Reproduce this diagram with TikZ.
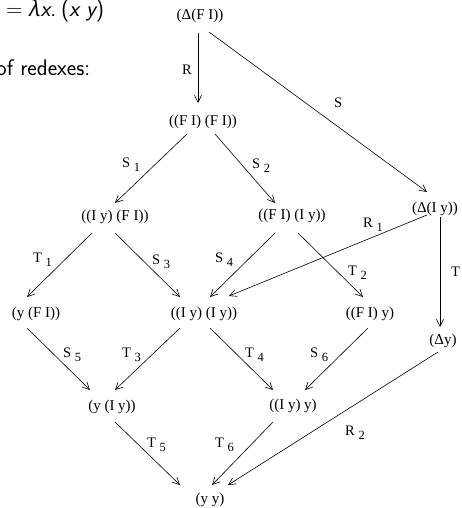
\documentclass[tikz,border=0pt]{standalone}
\usepackage{fontspec}
\setmainfont{Liberation Serif}
\newfontfamily\grk{Open Sans}
\usetikzlibrary{arrows.meta}
\newcommand\lab[2]{#1\ \raisebox{-4pt}{\fontsize{12.5}{13}\selectfont #2}}
\begin{document}
\begin{tikzpicture}[x=1pt,y=-1pt,
  term/.style={inner sep=0pt, font=\fontsize{15}{17}\selectfont},
  lbl/.style={inner sep=0pt, anchor=base west, font=\fontsize{14.5}{16}\selectfont},
  head/.style={inner sep=0pt, anchor=base west, font=\sffamily\fontsize{22.5}{27}\selectfont},
  arr/.style={line width=0.6pt, -{Straight Barb[length=7pt,width=7pt]}},
]
\useasboundingbox (0,0) rectangle (462,508);
% heading fragments
\node[head] (h1) at (6,17) {= {\grk\itshape λ}{\itshape x}.\hspace{5pt}({\itshape x y})};
\node[head] (h2) at (-4,76) {of redexes:};
% terms
\node[term] (A) at (200,16) {(Δ(F I))};
\node[term] (B) at (203,122) {((F I) (F I))};
\node[term] (C) at (115,217) {((I y) (F I))};
\node[term] (D) at (292,216) {((F I) (I y))};
\node[term] (E) at (435,209) {(Δ(I y))};
\node[term] (F) at (36,314) {(y (F I))};
\node[term] (G) at (204,314) {((I y) (I y))};
\node[term] (H) at (370,314) {((F I) y)};
\node[term] (K) at (443,341) {(Δy)};
\node[term] (L) at (112,407) {(y (I y))};
\node[term] (M) at (293,406) {((I y) y)};
\node[term] (N) at (210,500) {(y y)};
% arrows
\draw[arr] ([shift={(-2,17)}]A.center) -- ([shift={(-5,-19)}]B.center);
\draw[arr] ([shift={(9,16)}]A.center) -- ([shift={(-8,-17)}]E.center);
\draw[arr] ([shift={(-16,12)}]B.center) -- ([shift={(0,-14)}]C.center);
\draw[arr] ([shift={(12,12)}]B.center) -- ([shift={(-17,-13)}]D.center);
\draw[arr] ([shift={(-23,16)}]C.center) -- ([shift={(-9,-17)}]F.center);
\draw[arr] ([shift={(0,16)}]C.center) -- ([shift={(-24,-17)}]G.center);
\draw[arr] ([shift={(-17,17)}]D.center) -- ([shift={(6,-17)}]G.center);
\draw[arr] ([shift={(6,17)}]D.center) -- ([shift={(-7,-17)}]H.center);
\draw[arr] ([shift={(-8,6)}]E.center) -- ([shift={(25,-18)}]G.center);
\draw[arr] ([shift={(5,8)}]E.center) -- ([shift={(-3,-14)}]K.center);
\draw[arr] ([shift={(-9,14)}]F.center) -- ([shift={(-22,-17)}]L.center);
\draw[arr] ([shift={(-24,14)}]G.center) -- ([shift={(3,-17)}]L.center);
\draw[arr] ([shift={(6,14)}]G.center) -- ([shift={(-20,-16)}]M.center);
\draw[arr] ([shift={(-2,14)}]H.center) -- ([shift={(12,-16)}]M.center);
\draw[arr] ([shift={(3,15)}]L.center) -- ([shift={(-30,-15)}]N.center);
\draw[arr] ([shift={(-20,16)}]M.center) -- ([shift={(2,-15)}]N.center);
\draw[arr] ([shift={(-5,11)}]K.center) -- ([shift={(18,-15)}]N.center);
% labels
\node[lbl] (lR) at (182,75) {R};
\node[lbl] (lS) at (334,108) {S};
\node[lbl] (lS1) at (122,167) {\lab{S}{1}};
\node[lbl] (lS2) at (252,168) {\lab{S}{2}};
\node[lbl] (lT1) at (33,262) {\lab{T}{1}};
\node[lbl] (lS3) at (152,264) {\lab{S}{3}};
\node[lbl] (lS4) at (215,262) {\lab{S}{4}};
\node[lbl] (lT2) at (348,275) {\lab{T}{2}};
\node[lbl] (lR1) at (363,227) {\lab{R}{1}};
\node[lbl] (lT) at (451,276) {T};
\node[lbl] (lS5) at (63,357) {\lab{S}{5}};
\node[lbl] (lT3) at (122,357) {\lab{T}{3}};
\node[lbl] (lT4) at (245,357) {\lab{T}{4}};
\node[lbl] (lS6) at (310,357) {\lab{S}{6}};
\node[lbl] (lT5) at (147,447) {\lab{T}{5}};
\node[lbl] (lT6) at (215,447) {\lab{T}{6}};
\node[lbl] (lR2) at (345,435) {\lab{R}{2}};
\end{tikzpicture}
\end{document}
